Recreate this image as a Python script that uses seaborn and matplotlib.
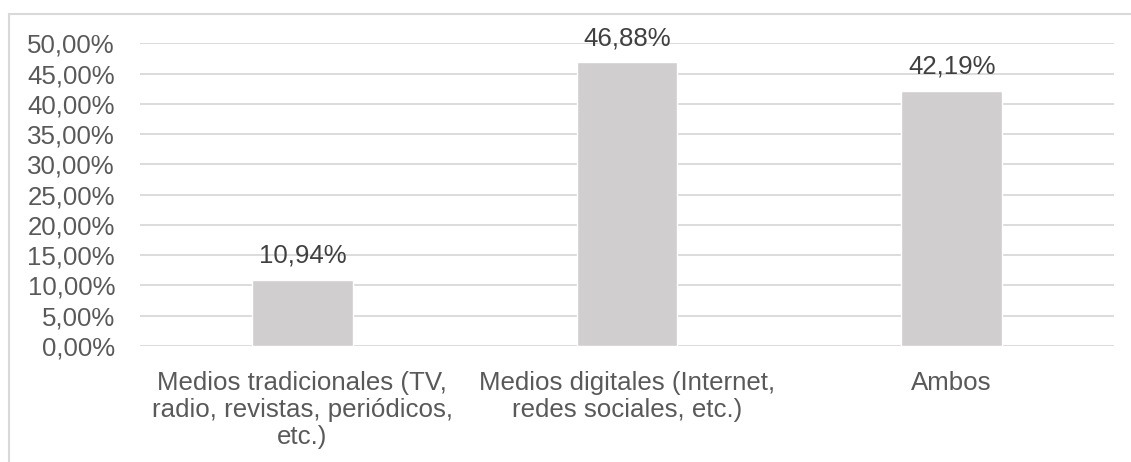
import matplotlib
matplotlib.use("Agg")
import matplotlib.pyplot as plt
from matplotlib.patches import Rectangle
from matplotlib.ticker import FuncFormatter, MultipleLocator
import seaborn as sns
import pandas as pd

categories = [
    "Medios tradicionales (TV,\nradio, revistas, periódicos,\netc.)",
    "Medios digitales (Internet,\nredes sociales, etc.)",
    "Ambos",
]
values = [10.94, 46.88, 42.19]

df = pd.DataFrame({"categoria": categories, "porcentaje": values})

sns.set_theme(style="white")
plt.rcParams["font.family"] = ["Liberation Sans", "DejaVu Sans"]

fig = plt.figure(figsize=(11.31, 4.62), dpi=100)
ax = fig.add_axes([140 / 1131, 1 - 346 / 462, (1114 - 140) / 1131, (346 - 43.3) / 462])

sns.barplot(data=df, x="categoria", y="porcentaje", color="#d0cece",
            width=0.31, saturation=1, ax=ax, zorder=3)

ax.set_ylim(0, 50)
ax.set_xlim(-0.5, 2.5)
ax.yaxis.set_major_locator(MultipleLocator(5))
ax.yaxis.set_major_formatter(FuncFormatter(lambda v, _: f"{v:.2f}%".replace(".", ",")))
ax.grid(axis="y", color="#d9d9d9", linewidth=1.3, zorder=0)
ax.set_axisbelow(True)
for s in ax.spines.values():
    s.set_visible(False)
ax.set_xlabel("")
ax.set_ylabel("")
ax.tick_params(axis="y", length=0, pad=18, labelsize=18.6, labelcolor="#595959")
ax.tick_params(axis="x", length=0, pad=18, labelsize=18.6, labelcolor="#595959")
for lbl in ax.get_xticklabels():
    lbl.set_linespacing(1.15)

for i, v in enumerate(values):
    ax.annotate(f"{v:.2f}%".replace(".", ","), (i, v), xytext=(0, 8.5),
                textcoords="offset points", ha="center", va="bottom",
                fontsize=18.6, color="#404040")

fig.patches.append(Rectangle((9 / 1131, -0.1), 1.2, 1 - 14 / 462 + 0.1,
                             transform=fig.transFigure, fill=False,
                             edgecolor="#d9d9d9", linewidth=1.5))

fig.savefig("out.png", dpi=100, facecolor="white")
